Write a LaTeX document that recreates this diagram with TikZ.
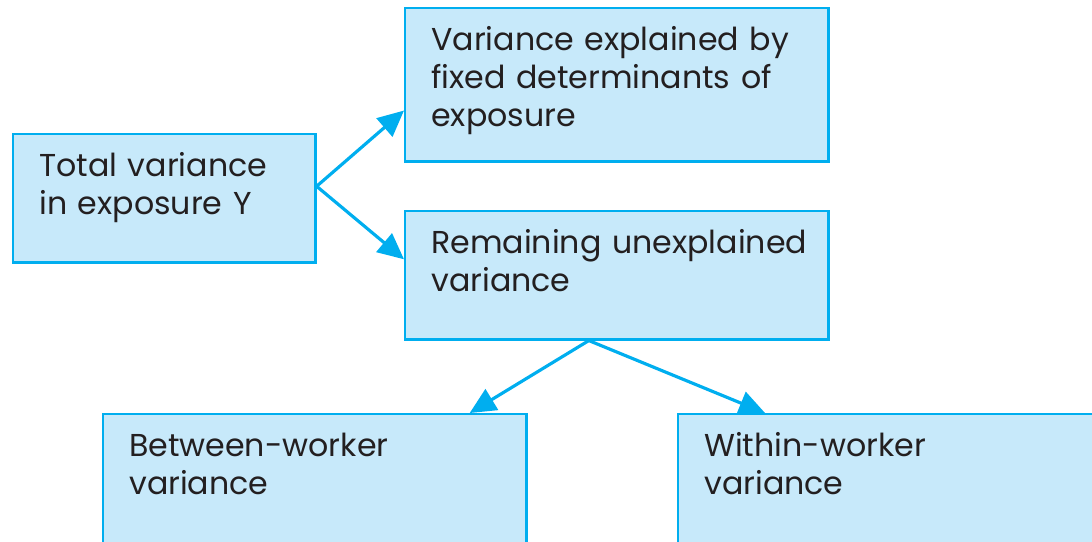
\documentclass[tikz,border=0pt]{standalone}
\usepackage{fontspec}
\setmainfont{Poppins}
\usepackage{tikz}
\usetikzlibrary{arrows.meta}
\definecolor{boxline}{RGB}{0,174,239}
\definecolor{boxfill}{RGB}{199,233,250}
\definecolor{boxtext}{RGB}{35,31,32}

\tikzset{
  varbox/.style={draw=boxline, line width=0.7pt, fill=boxfill, text=boxtext,
    anchor=north west, align=left, inner xsep=0.26cm, inner ysep=0.2cm,
    text height=0.22cm, font=\fontsize{9}{10.8}\selectfont},
  flow/.style={draw=boxline, line width=0.9pt, -{Triangle[length=0.26cm,width=0.24cm]}}
}

\begin{document}
\begin{tikzpicture}[x=0.01cm, y=-0.01cm]
        \clip (0,0) rectangle (1092,541);
        \node[varbox, text width=2.50cm, text depth=0.66cm] (total) at (12,133) {Total variance\\in exposure Y};
        \node[varbox, text width=3.71cm, text depth=0.91cm] (fixed) at (404,7) {Variance explained by\\fixed determinants of\\exposure};
        \node[varbox, text width=3.71cm, text depth=0.66cm] (resid) at (404,210) {\mbox{Remaining unexplained}\\variance};
        \node[varbox, text width=3.71cm, text depth=0.9cm] (between) at (102,413) {Between-worker\\variance};
        \node[varbox, text width=4.5cm, text depth=0.9cm] (within) at (677,413) {Within-worker\\variance};
        \draw[flow] ([yshift=0.12cm]total.east) -- ([yshift=0.52cm]fixed.south west);
        \draw[flow] ([yshift=0.12cm]total.east) -- ([yshift=0.16cm]resid.west);
        \draw[flow] ([xshift=-0.28cm]resid.south) -- ([xshift=-0.58cm]between.north east);
        \draw[flow] ([xshift=-0.28cm]resid.south) -- ([xshift=0.88cm]within.north west);
      \end{tikzpicture}
\end{document}
